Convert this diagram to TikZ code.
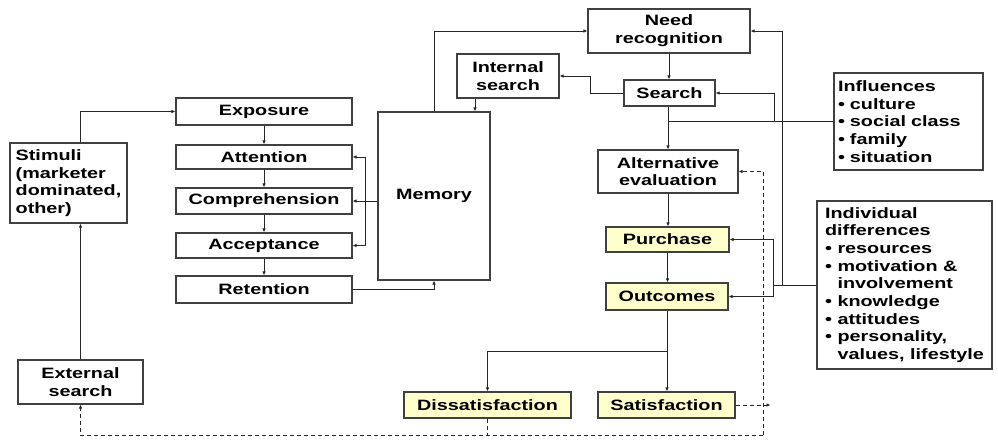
\documentclass[tikz,border=0pt]{standalone}
\usepackage{fontspec}
\newfontfamily\labfont[FakeStretch=1.32]{Liberation Sans}
\usetikzlibrary{arrows.meta,calc}
\definecolor{boxgray}{HTML}{404040}
\definecolor{paleyellow}{HTML}{FFFFCC}
\begin{document}
\begin{tikzpicture}[x=1pt,y=-1pt,
  lab/.style={font=\labfont\bfseries\fontsize{15}{17.7}\selectfont},
  box/.style={lab, draw=boxgray, line width=1.1pt, inner sep=0pt, align=center, fill=white},
  ybox/.style={box, fill=paleyellow},
  conn/.style={line width=0.9pt, draw=black!85},
  arr/.style={conn, -{Latex[length=4pt,width=3.5pt]}},
  dln/.style={conn, dash pattern=on 4pt off 3pt},
  darr/.style={arr, dash pattern=on 4pt off 3pt}]
\useasboundingbox (0,0) rectangle (998,439);

% left column
\node[box, minimum width=176, minimum height=27] (expo) at (264,111.5) {Exposure};
\node[box, minimum width=176, minimum height=24] (att) at (264,157) {Attention};
\node[box, minimum width=176, minimum height=26] (comp) at (264,201) {Comprehension};
\node[box, minimum width=176, minimum height=25] (acc) at (264,245.5) {Acceptance};
\node[box, minimum width=176, minimum height=27] (ret) at (264,289.5) {Retention};
\node[box, minimum width=112, minimum height=168] (mem) at (434,196) {Memory};
\node[box, minimum width=117, minimum height=80, align=left] (stim) at (68.5,183) {Stimuli\\(marketer\\dominated,\\other)};
\node[box, minimum width=125, minimum height=44] (ext) at (80.5,382) {External\\search};

% centre column
\node[box, minimum width=162, minimum height=44] (need) at (669,31) {Need\\recognition};
\node[box, minimum width=91, minimum height=26] (search) at (669.5,93) {Search};
\node[box, minimum width=102, minimum height=44] (intsearch) at (508,76) {Internal\\search};
\node[box, minimum width=140, minimum height=43] (alt) at (668,171.5) {Alternative\\evaluation};
\node[ybox, minimum width=123, minimum height=25] (purch) at (667.5,239.5) {Purchase};
\node[ybox, minimum width=122, minimum height=27] (outc) at (667,296.5) {Outcomes};
\node[ybox, minimum width=167, minimum height=26] (dis) at (487.5,405) {Dissatisfaction};
\node[ybox, minimum width=137, minimum height=26] (sat) at (666.5,405) {Satisfaction};

% right column
\node[box, align=left, inner xsep=4, text width=141, minimum height=97] (infl) at (908.5,121.5)
  {Influences\\• culture\\• social class\\• family\\• situation};
\node[box, align=left, minimum width=175, minimum height=168] (indiv) at (904.5,285)
  {Individual\\differences\\• resources\\• motivation \&\\\phantom{• }involvement\\• knowledge\\• attitudes\\• personality,\\\phantom{• }values, lifestyle};

% connectors, left part
\draw[arr] (ext.north) -- (ext.north |- stim.south);
\draw[arr] (ext.north |- stim.north) |- (expo.west);
\foreach \a/\b in {expo/att,att/comp,comp/acc,acc/ret} \draw[arr] (\a.south) -- (\b.north);
\coordinate (mj) at (365,201);
\draw[conn] (mem.west |- mj) -- (mj);
\draw[arr] (mj) -- (comp.east);
\draw[arr] (mj) |- (att.east);
\draw[arr] (mj) |- (acc.east);
\draw[arr] (ret.east) -| (mem.south);
\draw[arr] (mem.north) |- (need.west);
\coordinate (isx) at (475,0);
\draw[arr] (isx |- intsearch.south) -- (isx |- mem.north);

% centre
\draw[arr] (need.south) -- (need.south |- search.north);
\draw[arr] (search.west) -- ++(-33,0) |- (intsearch.east);
\draw[arr] (alt.north |- search.south) -- (alt.north);
\coordinate (ij) at (774,0);
\draw[conn] (infl.west) -- (alt.north |- infl.west);
\draw[arr] (ij |- infl.west) |- (search.east);
\coordinate (dj) at (773,285);
\coordinate (vx) at (782,0);
\draw[conn] (indiv.west) -- (dj);
\draw[arr] (dj) |- (purch.east);
\draw[arr] (dj) |- (outc.east);
\draw[arr] (vx |- indiv.west) |- (need.east);
\draw[arr] (alt.south) -- (alt.south |- purch.north);
\draw[arr] (purch.south) -- (purch.south |- outc.north);
\coordinate (oj) at (0,351);
\draw[arr] (outc.south) -- (outc.south |- oj) -| (dis.north);
\draw[arr] (outc.south |- oj) -- (outc.south |- sat.north);

% dashed feedback
\coordinate (bot) at (0,435);
\coordinate (dx) at (763,0);
\draw[dln] (dis.south) -- (dis.south |- bot);
\draw[darr] (dx |- bot) -- (ext.south |- bot) -- (ext.south);
\draw[darr] (dx |- bot) -- (dx |- alt.east) -- (alt.east);
\draw[darr] (sat.east) -- ++(35,0);
\end{tikzpicture}
\end{document}
